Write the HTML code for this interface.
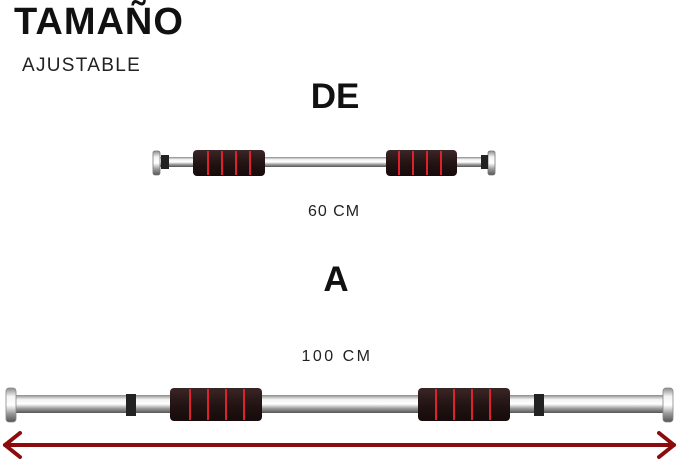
<!DOCTYPE html>
<html><head><meta charset="utf-8"><style>
body{margin:0;background:#fff;width:679px;height:467px;overflow:hidden}
svg{display:block}
</style></head><body>
<svg width="679" height="467" viewBox="0 0 679 467" xmlns="http://www.w3.org/2000/svg" font-family="Liberation Sans, sans-serif">
<defs>
<linearGradient id="chrome" x1="0" y1="0" x2="0" y2="1">
<stop offset="0" stop-color="#8a8a8a"/><stop offset="0.25" stop-color="#f4f4f4"/><stop offset="0.5" stop-color="#ffffff"/><stop offset="0.75" stop-color="#9a9a9a"/><stop offset="1" stop-color="#555"/>
</linearGradient>
<linearGradient id="foam" x1="0" y1="0" x2="0" y2="1">
<stop offset="0" stop-color="#3a2626"/><stop offset="0.5" stop-color="#241414"/><stop offset="1" stop-color="#160a0a"/>
</linearGradient>
</defs>
<text x="14" y="34" font-size="38" font-weight="bold" fill="#111" letter-spacing="1">TAMAÑO</text>
<text x="22" y="71" font-size="19" letter-spacing="1.3" fill="#222">AJUSTABLE</text>
<text x="335" y="108" font-size="35" font-weight="bold" fill="#111" text-anchor="middle">DE</text>
<text x="334" y="216" font-size="16" letter-spacing="1" fill="#222" text-anchor="middle">60 CM</text>
<text x="336" y="291" font-size="35" font-weight="bold" fill="#111" text-anchor="middle">A</text>
<text x="337" y="361" font-size="16" letter-spacing="2.5" fill="#222" text-anchor="middle">100 CM</text>

<rect x="160" y="157" width="334" height="10" fill="url(#chrome)"/>
<rect x="153" y="151" width="7" height="24" rx="2" fill="url(#chrome)" stroke="#777" stroke-width="0.8"/>
<rect x="161" y="155" width="8" height="14" fill="#222"/>
<rect x="488" y="151" width="7" height="24" rx="2" fill="url(#chrome)" stroke="#777" stroke-width="0.8"/>
<rect x="481" y="155" width="7" height="14" fill="#222"/>
<g fill="url(#foam)">
<rect x="193" y="150" width="72" height="26" rx="4"/>
<rect x="386" y="150" width="71" height="26" rx="4"/>
</g>
<g stroke="#e0202a" stroke-width="2">
<line x1="208" y1="151" x2="208" y2="175"/><line x1="222" y1="151" x2="222" y2="175"/><line x1="236" y1="151" x2="236" y2="175"/><line x1="250" y1="151" x2="250" y2="175"/>
<line x1="399" y1="151" x2="399" y2="175"/><line x1="413" y1="151" x2="413" y2="175"/><line x1="427" y1="151" x2="427" y2="175"/><line x1="441" y1="151" x2="441" y2="175"/>
</g>

<rect x="15" y="395" width="650" height="18" fill="url(#chrome)"/>
<rect x="6" y="388" width="10" height="34" rx="3" fill="url(#chrome)" stroke="#888" stroke-width="0.8"/>
<rect x="663" y="388" width="10" height="34" rx="3" fill="url(#chrome)" stroke="#888" stroke-width="0.8"/>
<rect x="126" y="394" width="10" height="22" fill="#222"/>
<rect x="534" y="394" width="10" height="22" fill="#222"/>
<g fill="url(#foam)">
<rect x="170" y="388" width="92" height="33" rx="4"/>
<rect x="418" y="388" width="92" height="33" rx="4"/>
</g>
<g stroke="#e0202a" stroke-width="2">
<line x1="190" y1="389" x2="190" y2="420"/><line x1="208" y1="389" x2="208" y2="420"/><line x1="226" y1="389" x2="226" y2="420"/><line x1="244" y1="389" x2="244" y2="420"/>
<line x1="436" y1="389" x2="436" y2="420"/><line x1="454" y1="389" x2="454" y2="420"/><line x1="472" y1="389" x2="472" y2="420"/><line x1="490" y1="389" x2="490" y2="420"/>
</g>

<g stroke="#8b0c0c" stroke-width="4" fill="none" stroke-linecap="round" stroke-linejoin="round">
<line x1="5" y1="445" x2="674" y2="445"/>
<polyline points="20,433 5,445 20,457"/>
<polyline points="659,433 674,445 659,457"/>
</g>
</svg>
</body></html>
